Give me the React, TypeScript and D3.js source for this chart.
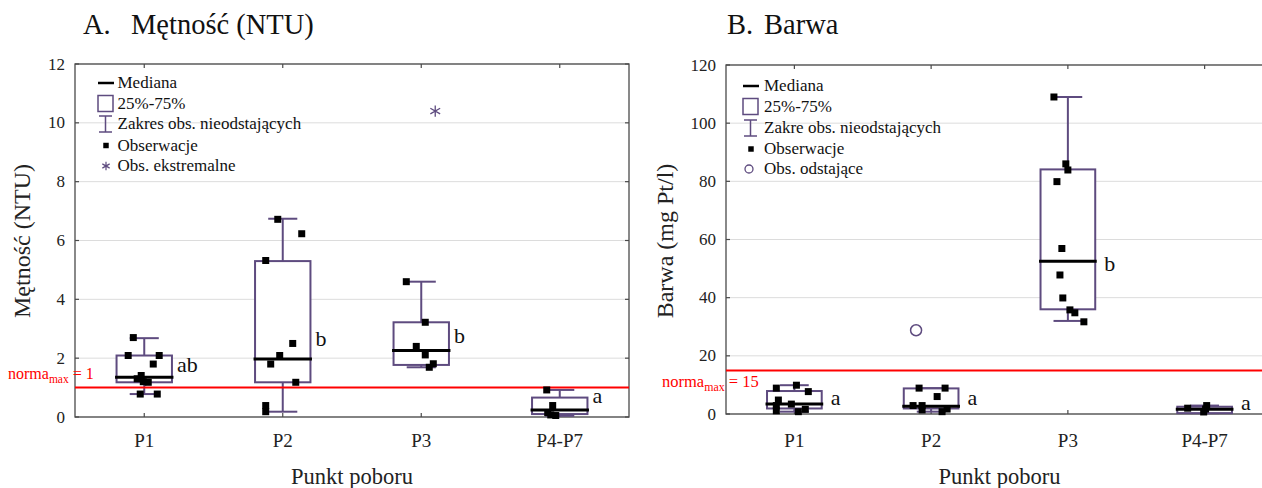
import React from "react";
import * as d3 from "d3";

const categories = ["P1", "P2", "P3", "P4-P7"];

// ---- A. Mętność (NTU) ----
const turbQ1 = [1.18, 1.18, 1.77, 0.1];
const turbMedian = [1.35, 1.97, 2.26, 0.24];
const turbQ3 = [2.09, 5.3, 3.22, 0.66];
const turbWhiskerLow = [0.78, 0.18, 1.69, 0.04];
const turbWhiskerHigh = [2.68, 6.74, 4.6, 0.92];
const turbObs = [
  [2.7, 2.09, 2.09, 1.8, 1.41, 1.3, 1.2, 1.18, 0.78, 0.78],
  [6.72, 6.23, 5.32, 2.5, 2.09, 1.8, 1.18, 0.39, 0.18],
  [4.6, 3.22, 2.4, 2.11, 1.81, 1.69],
  [0.92, 0.39, 0.15, 0.07, 0.05],
];
const turbJitter = [
  [-0.079, -0.116, 0.108, 0.065, -0.022, -0.051, -0.007, 0.029, -0.029, 0.094],
  [-0.036, 0.137, -0.123, 0.072, -0.022, -0.087, 0.094, -0.123, -0.123],
  [-0.108, 0.029, -0.036, 0.029, 0.087, 0.058],
  [-0.094, -0.051, -0.087, -0.065, -0.029],
];
const turbExtreme = [null, null, 10.4, null];
const turbExtremeJitter = [0, 0, 0.101, 0];
const turbLetters = ["ab", "b", "b", "a"];
const turbLetterY = [1.54, 2.42, 2.51, 0.47];
const turbTicks = [0, 2, 4, 6, 8, 10, 12];
const turbNorm = 1;

// ---- B. Barwa ----
const colorQ1 = [1.9, 1.9, 36.0, 0.3];
const colorMedian = [3.4, 2.7, 52.5, 1.6];
const colorQ3 = [7.9, 8.8, 84.1, 2.5];
const colorWhiskerLow = [0.8, 0.8, 32.0, 0.3];
const colorWhiskerHigh = [9.9, 8.9, 109.0, 2.9];
const colorObs = [
  [9.9, 8.9, 7.7, 4.8, 3.4, 2.9, 1.6, 1.1, 0.8],
  [8.9, 8.9, 6.0, 2.9, 2.9, 1.7, 1.4, 0.8],
  [109.0, 86.0, 83.9, 79.9, 56.9, 47.8, 39.9, 35.8, 34.8, 31.7],
  [2.9, 2.0, 1.7, 0.7],
];
const colorJitter = [
  [0.015, -0.132, 0.102, -0.117, -0.022, -0.132, 0.08, -0.132, 0.029],
  [-0.088, 0.102, 0.044, -0.132, -0.066, 0.117, -0.066, 0.08],
  [-0.102, -0.015, 0, -0.08, -0.044, -0.058, -0.037, 0.015, 0.051, 0.117],
  [0.015, -0.124, 0.007, -0.007],
];
const colorOutlier = [null, 28.8, null, null];
const colorOutlierJitter = [0, -0.11, 0, 0];
const colorLetters = ["a", "a", "b", "a"];
const colorLetterY = [3.1, 3.1, 49.2, 1.4];
const colorTicks = [0, 20, 40, 60, 80, 100, 120];
const colorNorm = 15;

const legendA = ["Mediana", "25%-75%", "Zakres obs. nieodstających", "Obserwacje", "Obs. ekstremalne"];
const legendB = ["Mediana", "25%-75%", "Zakre obs. nieodstających", "Obserwacje", "Obs. odstające"];

const FONT = "'Liberation Serif', 'Times New Roman', serif";
const PURPLE = "#5e4b7f";
const FRAME = "#4a4a4a";
const GRID = "#dcdcdc";
const RED = "#ff0000";

type PanelProps = {
  x0: number; x1: number; yTop: number; yBottom: number; yMax: number;
  ticks: number[]; q1: number[]; median: number[]; q3: number[];
  wLow: number[]; wHigh: number[]; obs: number[][]; jitter: number[][];
  special: (number | null)[]; specialJitter: number[]; specialKind: "asterisk" | "circle";
  letters: string[]; letterY: number[]; letterGap: number;
  norm: number; normText: string; normX: number; normY: number; normSize: number;
  titleLetter: string; titleText: string; titleX: number; titleTextX: number;
  yLabel: string; yLabelX: number; yLabelY: number;
  legend: string[]; legX: number; legTextX: number; legRows: number[];
};

function Panel(p: PanelProps) {
  const x = d3.scaleBand<string>().domain(categories).range([p.x0, p.x1]).paddingInner(0).paddingOuter(0);
  const y = d3.scaleLinear().domain([0, p.yMax]).range([p.yBottom, p.yTop]);
  const bw = x.bandwidth();
  const boxW = bw * 0.4;
  const capW = bw * 0.21;
  const sq = d3.symbol(d3.symbolSquare, 49)() as string;
  const sqLeg = d3.symbol(d3.symbolSquare, 30)() as string;
  const ast = d3.symbol(d3.symbolAsterisk, 90)() as string;
  const astLeg = d3.symbol(d3.symbolAsterisk, 50)() as string;
  const cx = (c: string) => (x(c) as number) + bw / 2;

  return (
    <g>
      {/* title */}
      <text x={p.titleX} y={34} fontFamily={FONT} fontSize={28.5} fill="#111">{p.titleLetter}</text>
      <text x={p.titleTextX} y={34} fontFamily={FONT} fontSize={28.5} fill="#111">{p.titleText}</text>
      {/* grid */}
      {p.ticks.map((t) => (
        <line key={"g" + t} x1={p.x0} x2={p.x1} y1={y(t)} y2={y(t)} stroke={GRID} strokeWidth={1} />
      ))}
      {/* y tick labels & ticks */}
      {p.ticks.map((t) => (
        <g key={"t" + t}>
          <line x1={p.x0} x2={p.x0 + 4} y1={y(t)} y2={y(t)} stroke={FRAME} strokeWidth={1.2} />
          <line x1={p.x1} x2={p.x1 - 4} y1={y(t)} y2={y(t)} stroke={FRAME} strokeWidth={1.2} />
          <text x={p.x0 - 10} y={y(t) + 5.5} textAnchor="end" fontFamily={FONT} fontSize={17} fill="#222">{t}</text>
        </g>
      ))}
      {/* x ticks & labels */}
      {categories.map((c) => (
        <g key={"x" + c}>
          <line x1={cx(c)} x2={cx(c)} y1={p.yBottom} y2={p.yBottom - 4} stroke={FRAME} strokeWidth={1.2} />
          <line x1={cx(c)} x2={cx(c)} y1={p.yTop} y2={p.yTop + 4} stroke={FRAME} strokeWidth={1.2} />
          <text x={cx(c)} y={446.5} textAnchor="middle" fontFamily={FONT} fontSize={19} fill="#222">{c}</text>
        </g>
      ))}
      {/* frame */}
      <rect x={p.x0} y={p.yTop} width={p.x1 - p.x0} height={p.yBottom - p.yTop} fill="none" stroke={FRAME} strokeWidth={1.3} />
      {/* axis titles */}
      <text x={(p.x0 + p.x1) / 2} y={483.5} textAnchor="middle" fontFamily={FONT} fontSize={22.5} fill="#222">Punkt poboru</text>
      <text transform={`translate(${p.yLabelX},${p.yLabelY}) rotate(-90)`} textAnchor="middle" fontFamily={FONT} fontSize={24} fill="#222">{p.yLabel}</text>
      {/* boxes */}
      {categories.map((c, i) => {
        const m = cx(c);
        return (
          <g key={"b" + c}>
            <line x1={m} x2={m} y1={y(p.q3[i])} y2={y(p.wHigh[i])} stroke={PURPLE} strokeWidth={2} />
            <line x1={m} x2={m} y1={y(p.q1[i])} y2={y(p.wLow[i])} stroke={PURPLE} strokeWidth={2} />
            <line x1={m - capW / 2} x2={m + capW / 2} y1={y(p.wHigh[i])} y2={y(p.wHigh[i])} stroke={PURPLE} strokeWidth={2} />
            <line x1={m - capW / 2} x2={m + capW / 2} y1={y(p.wLow[i])} y2={y(p.wLow[i])} stroke={PURPLE} strokeWidth={2} />
            <rect x={m - boxW / 2} y={y(p.q3[i])} width={boxW} height={y(p.q1[i]) - y(p.q3[i])} fill="white" stroke={PURPLE} strokeWidth={2} />
            <line x1={m - boxW / 2 - 1.5} x2={m + boxW / 2 + 1.5} y1={y(p.median[i])} y2={y(p.median[i])} stroke="#000" strokeWidth={3} />
            <text x={m + boxW / 2 + p.letterGap} y={y(p.letterY[i])} fontFamily={FONT} fontSize={22} fill="#111">{p.letters[i]}</text>
          </g>
        );
      })}
      {/* norm line */}
      <line x1={p.x0} x2={p.x1} y1={y(p.norm)} y2={y(p.norm)} stroke={RED} strokeWidth={2} />
      <text x={p.normX} y={p.normY} fontFamily={FONT} fontSize={p.normSize} fill={RED}>
        norma<tspan fontSize={p.normSize * 0.72} dy={4}>max</tspan><tspan dy={-4}>{p.normText}</tspan>
      </text>
      {/* observations */}
      {categories.map((c, i) => (
        <g key={"o" + c}>
          {p.obs[i].map((v, j) => (
            <path key={j} d={sq} transform={`translate(${cx(c) + p.jitter[i][j] * bw},${y(v)})`} fill="#000" />
          ))}
          {p.special[i] !== null && (p.specialKind === "asterisk" ? (
            <path d={ast} transform={`translate(${cx(c) + p.specialJitter[i] * bw},${y(p.special[i] as number)})`} fill="none" stroke={PURPLE} strokeWidth={1.3} />
          ) : (
            <circle cx={cx(c) + p.specialJitter[i] * bw} cy={y(p.special[i] as number)} r={5.5} fill="none" stroke={PURPLE} strokeWidth={1.5} />
          ))}
        </g>
      ))}
      {/* legend */}
      <g>
        <line x1={p.legX} x2={p.legX + 16} y1={p.legRows[0]} y2={p.legRows[0]} stroke="#000" strokeWidth={2.5} />
        <rect x={p.legX} y={p.legRows[1] - 8} width={15} height={16} fill="white" stroke={PURPLE} strokeWidth={1.5} />
        <line x1={p.legX + 7.5} x2={p.legX + 7.5} y1={p.legRows[2] - 8} y2={p.legRows[2] + 8} stroke={PURPLE} strokeWidth={1.5} />
        <line x1={p.legX + 1} x2={p.legX + 14} y1={p.legRows[2] - 8} y2={p.legRows[2] - 8} stroke={PURPLE} strokeWidth={1.5} />
        <line x1={p.legX + 1} x2={p.legX + 14} y1={p.legRows[2] + 8} y2={p.legRows[2] + 8} stroke={PURPLE} strokeWidth={1.5} />
        <path d={sqLeg} transform={`translate(${p.legX + 8},${p.legRows[3]})`} fill="#000" />
        {p.specialKind === "asterisk" ? (
          <path d={astLeg} transform={`translate(${p.legX + 8},${p.legRows[4]})`} fill="none" stroke={PURPLE} strokeWidth={1.2} />
        ) : (
          <circle cx={p.legX + 6} cy={p.legRows[4]} r={4} fill="none" stroke={PURPLE} strokeWidth={1.3} />
        )}
        {p.legend.map((t, k) => (
          <text key={k} x={p.legTextX} y={p.legRows[k] + 5} fontFamily={FONT} fontSize={17} fill="#111">{t}</text>
        ))}
      </g>
    </g>
  );
}

export default function App() {
  return (
    <svg width={1262} height={488} style={{ position: "absolute", left: 0, top: 0, background: "white" }}>
      <rect x={0} y={0} width={1262} height={488} fill="white" />
      <Panel
        x0={75} x1={629} yTop={64} yBottom={417} yMax={12} ticks={turbTicks}
        q1={turbQ1} median={turbMedian} q3={turbQ3} wLow={turbWhiskerLow} wHigh={turbWhiskerHigh}
        obs={turbObs} jitter={turbJitter} special={turbExtreme} specialJitter={turbExtremeJitter} specialKind="asterisk"
        letters={turbLetters} letterY={turbLetterY} letterGap={5}
        norm={turbNorm} normText=" = 1" normX={8} normY={378.5} normSize={16}
        titleLetter="A." titleText="Mętność (NTU)" titleX={83} titleTextX={131}
        yLabel="Mętność (NTU)" yLabelX={30} yLabelY={241}
        legend={legendA} legX={98} legTextX={117.5} legRows={[83, 103.5, 124, 145.5, 166]}
      />
      <Panel
        x0={726} x1={1273} yTop={65} yBottom={414} yMax={120} ticks={colorTicks}
        q1={colorQ1} median={colorMedian} q3={colorQ3} wLow={colorWhiskerLow} wHigh={colorWhiskerHigh}
        obs={colorObs} jitter={colorJitter} special={colorOutlier} specialJitter={colorOutlierJitter} specialKind="circle"
        letters={colorLetters} letterY={colorLetterY} letterGap={9}
        norm={colorNorm} normText=" = 15" normX={662} normY={386.5} normSize={16.5}
        titleLetter="B." titleText="Barwa" titleX={727} titleTextX={764}
        yLabel="Barwa (mg Pt/l)" yLabelX={673} yLabelY={241}
        legend={legendB} legX={743} legTextX={764} legRows={[86, 106.5, 128, 149, 169]}
      />
    </svg>
  );
}
